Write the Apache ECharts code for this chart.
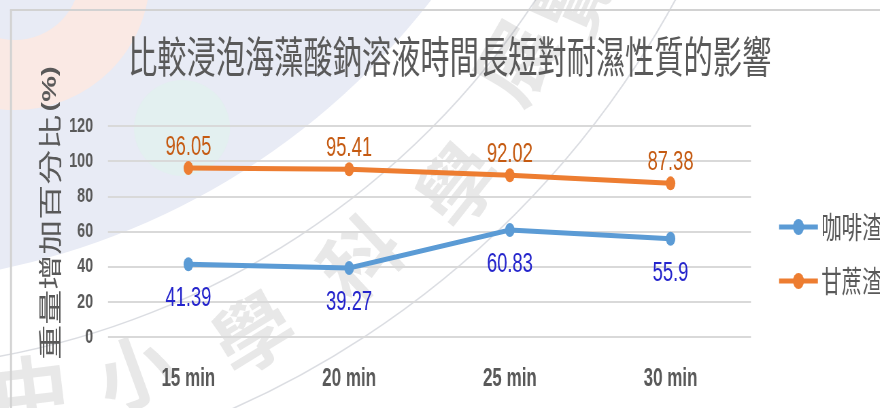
<!DOCTYPE html>
<html>
<head>
<meta charset="utf-8">
<script src="https://cdn.jsdelivr.net/npm/echarts@6/dist/echarts.min.js"></script>
<style>
  html, body { margin: 0; padding: 0; background: #fff; overflow: hidden; }
  #frame { width: 880px; height: 408px; overflow: hidden; position: relative; }
  #chart { height: 408px; transform-origin: 0 0; }
</style>
</head>
<body>
<div id="frame"><div id="chart"></div></div>
<script>
// ---- data ----
const categories = ['15 min', '20 min', '25 min', '30 min'];
const seriesNames = ['咖啡渣', '甘蔗渣'];
const coffeeGrounds = [41.39, 39.27, 60.83, 55.9];
const bagasse = [96.05, 95.41, 92.02, 87.38];
const yMin = 0, yMax = 120, yStep = 20;
const titleText = '比較浸泡海藻酸鈉溶液時間長短對耐濕性質的影響';
const yName = '重量增加百分比';
const yUnit = '(%)';
const watermarkChars = ['中', '小', '學', '科', '學', '展', '覽'];

// The chart is laid out on a wider canvas and squeezed horizontally,
// giving the tall, condensed lettering of the original slide.
const SX = 0.68;
const W = 880 / SX;
const el = document.getElementById('chart');
el.style.width = W + 'px';
el.style.transform = 'scaleX(' + SX + ')';
const X = (px) => px / SX;   // page-pixel x to canvas x

const GREY = '#595959';
const CJK = '"Noto Sans CJK TC", "Noto Sans CJK SC", sans-serif';
const LAT = '"Liberation Sans", Arial, sans-serif';

// soft slide backdrop (drawn in page pixels via the group's inverse scale)
const wmPos = [[30, 392, 0.12], [135, 372, 0.35], [253, 333, 0.55], [360, 258, 0.75],
               [458, 185, 0.9], [515, 62, 1.05], [575, -5, 1.15]];
const backdrop = {
  type: 'group', x: 0, y: 0, scaleX: 1 / SX, silent: true, z: -10,
  children: [
    { type: 'circle', shape: { cx: -150, cy: -450, r: 735 }, style: { fill: '#e8ebf5' } },
    { type: 'ring', shape: { cx: 15, cy: -25, r: 135, r0: 65 }, style: { fill: '#fae9e4' } },
    { type: 'circle', shape: { cx: 182, cy: 128, r: 48 }, style: { fill: '#e3f0f0' } },
    { type: 'circle', shape: { cx: -150, cy: -450, r: 820 },
      style: { fill: null, stroke: 'rgba(175,180,190,0.45)', lineWidth: 1.5 } },
    { type: 'circle', shape: { cx: -150, cy: -450, r: 940 },
      style: { fill: null, stroke: 'rgba(175,180,190,0.45)', lineWidth: 1.5 } }
  ].concat(watermarkChars.map((ch, i) => ({
    type: 'text', x: wmPos[i][0], y: wmPos[i][1], rotation: wmPos[i][2],
    style: { text: ch, fill: 'rgba(140,140,140,0.2)', font: 'bold 78px ' + CJK,
             align: 'center', verticalAlign: 'middle', textAlign: 'center', textVerticalAlign: 'middle' }
  }))).concat([
    { type: 'line', shape: { x1: 10, y1: 10, x2: 880, y2: 10 }, style: { stroke: '#d2d2d2', lineWidth: 2 } },
    { type: 'line', shape: { x1: 11, y1: 10, x2: 11, y2: 408 }, style: { stroke: '#d2d2d2', lineWidth: 2 } }
  ])
};

const axisTitle = {
  type: 'text', x: X(50), y: 213, rotation: Math.PI / 2, z: 5,
  style: {
    text: '{a|' + yName + '} {b|' + yUnit + '}',
    fill: GREY,
    align: 'center', verticalAlign: 'middle', textAlign: 'center', textVerticalAlign: 'middle',
    rich: {
      a: { fontSize: 35, fontFamily: CJK, fill: GREY, color: GREY, fontWeight: 'normal' },
      b: { fontSize: 29, fontFamily: LAT, fill: GREY, color: GREY, fontWeight: 'bold' }
    }
  }
};

const chart = echarts.init(el, null, { renderer: 'canvas' });
chart.setOption({
  animation: false,
  backgroundColor: '#ffffff',
  title: {
    text: titleText, left: X(128), top: 35, padding: 0,
    textStyle: { fontSize: 43, fontWeight: 'normal', color: GREY, fontFamily: CJK }
  },
  graphic: [backdrop, axisTitle],
  legend: {
    orient: 'vertical', left: X(774), top: 207,
    itemWidth: 57, itemHeight: 20, itemGap: 24,
    lineStyle: { width: 5 },
    textStyle: { fontSize: 30, color: GREY, fontFamily: CJK },
    data: seriesNames
  },
  grid: { left: X(108), right: W - X(751), top: 126, bottom: 71, containLabel: false },
  xAxis: {
    type: 'category', data: categories, boundaryGap: true,
    axisLine: { show: false }, axisTick: { show: false },
    axisLabel: { margin: 30, fontSize: 25, fontWeight: 'bold', color: GREY, fontFamily: LAT }
  },
  yAxis: {
    type: 'value', min: yMin, max: yMax, interval: yStep,
    axisLine: { show: false }, axisTick: { show: false },
    axisLabel: { margin: 22, fontSize: 21, fontWeight: 'bold', color: GREY, fontFamily: LAT },
    splitLine: { lineStyle: { color: '#d9d9d9', width: 2 } }
  },
  series: [
    {
      name: seriesNames[0], type: 'line', data: coffeeGrounds,
      symbol: 'circle', symbolSize: 14, z: 3,
      lineStyle: { width: 5, color: '#5B9BD5' }, itemStyle: { color: '#5B9BD5' },
      label: { show: true, position: 'bottom', distance: 14, fontSize: 27, color: '#2424CC', fontFamily: LAT }
    },
    {
      name: seriesNames[1], type: 'line', data: bagasse,
      symbol: 'circle', symbolSize: 14, z: 3,
      lineStyle: { width: 5, color: '#ED7D31' }, itemStyle: { color: '#ED7D31' },
      label: { show: true, position: 'top', distance: 0, fontSize: 27, color: '#C55A11', fontFamily: LAT }
    }
  ]
});
</script>
</body>
</html>
